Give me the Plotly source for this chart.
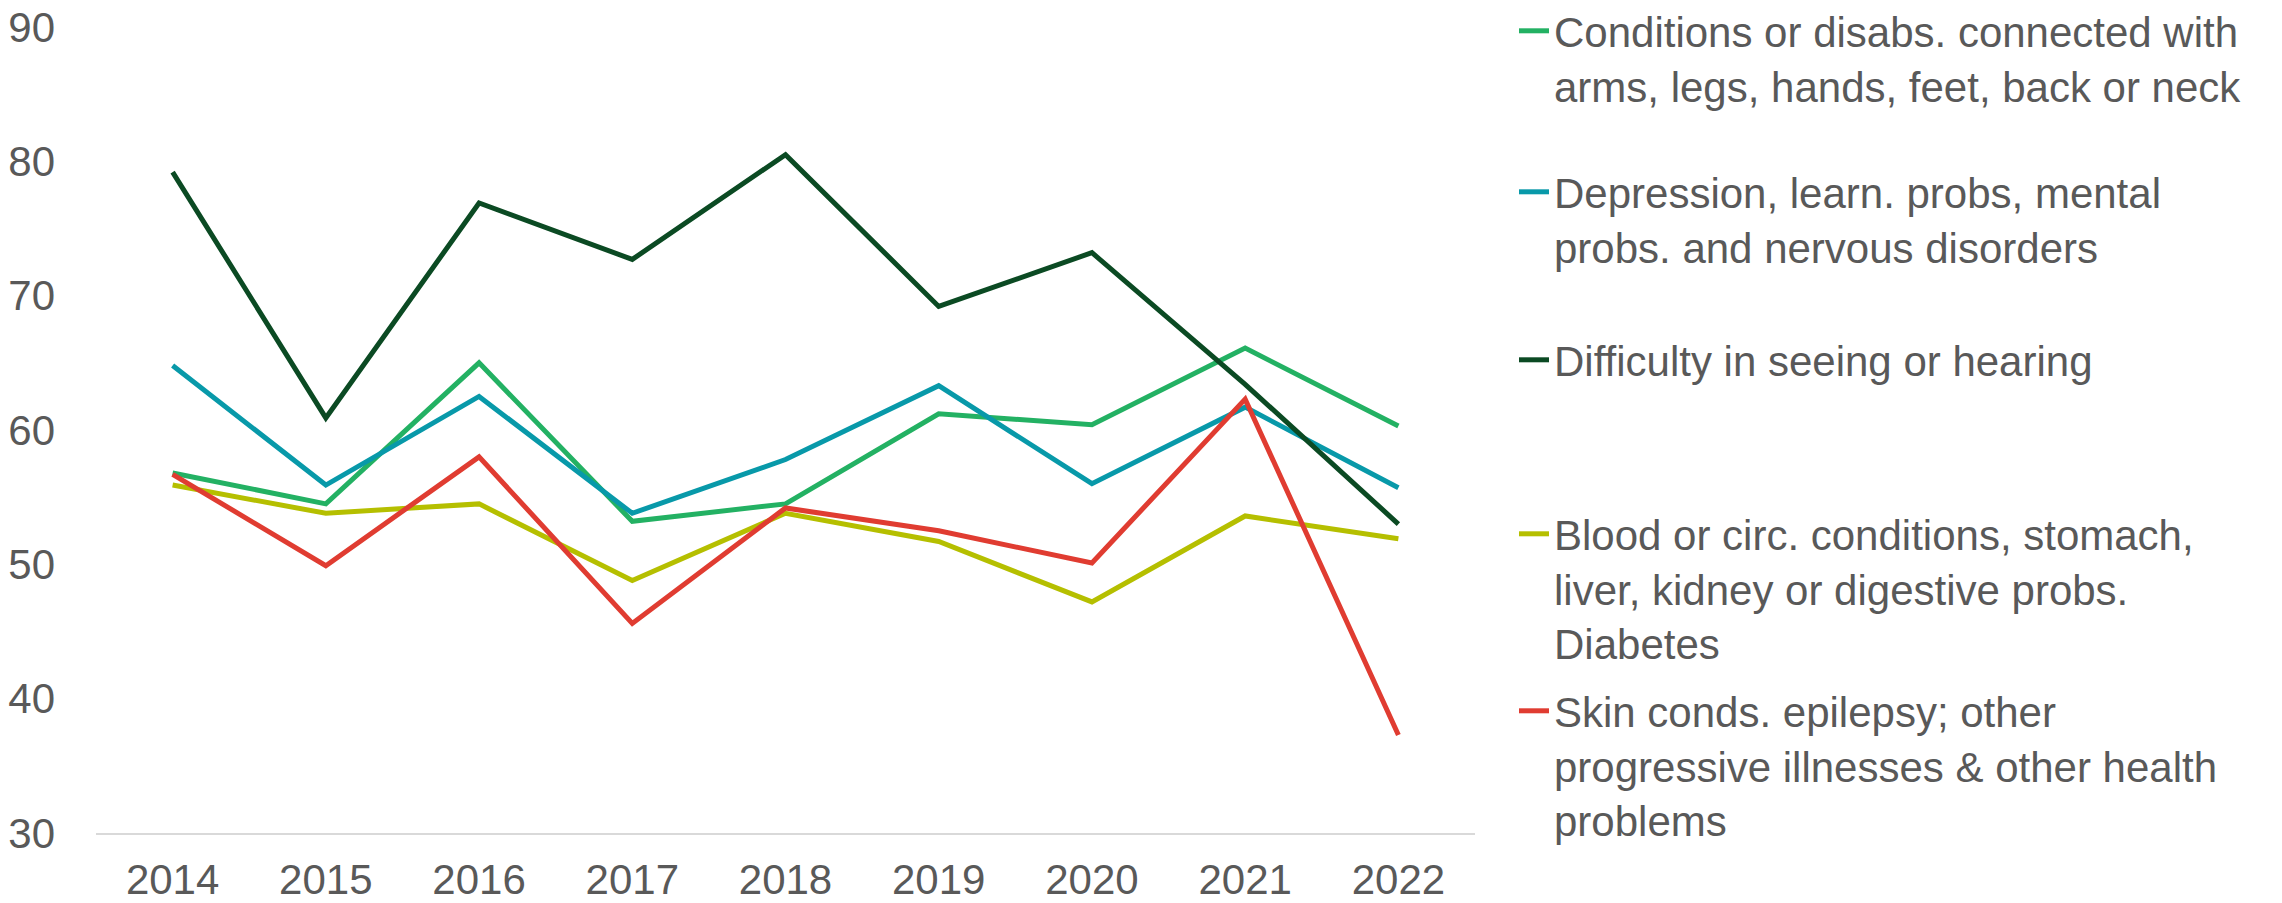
import plotly.graph_objects as go

years = ["2014", "2015", "2016", "2017", "2018", "2019", "2020", "2021", "2022"]

names = [
    "Conditions or disabs. connected with<br>arms, legs, hands, feet, back or neck",
    "Depression, learn. probs, mental<br>probs. and nervous disorders",
    "Difficulty in seeing or hearing",
    "Blood or circ. conditions, stomach,<br>liver, kidney or digestive probs.<br>Diabetes",
    "Skin conds. epilepsy; other<br>progressive illnesses & other health<br>problems",
]

conditions_limbs = [56.8, 54.5, 65.0, 53.2, 54.5, 61.2, 60.4, 66.1, 60.3]
depression_mental = [64.8, 55.9, 62.5, 53.8, 57.8, 63.3, 56.0, 61.7, 55.7]
seeing_hearing = [79.2, 60.9, 76.9, 72.7, 80.5, 69.2, 73.2, 63.4, 53.0]
blood_digestive = [55.9, 53.8, 54.5, 48.8, 53.8, 51.7, 47.2, 53.6, 51.9]
skin_other = [56.7, 49.9, 58.0, 45.6, 54.2, 52.5, 50.1, 62.3, 37.3]

series = [conditions_limbs, depression_mental, seeing_hearing, blood_digestive, skin_other]
colors = ["#23B163", "#0899A9", "#0B4A23", "#B5BF00", "#E03C31"]

FONT = "Liberation Sans, Arial, sans-serif"
GREY = "#595959"
FS = 42

fig = go.Figure()
legend_ids = ["legend", "legend2", "legend3", "legend4", "legend5"]
for name, vals, col, lid in zip(names, series, colors, legend_ids):
    fig.add_trace(go.Scatter(
        x=years, y=vals, name=name, mode="lines",
        line=dict(color=col, width=5),
        legend=lid,
    ))

W, H = 2282, 903
ml, mr, mt, mb = 96, 807, 27, 70
plot_w = W - ml - mr
plot_h = H - mt - mb

# first-line centres of the legend items (pixels from top)
item_centres = [27, 188, 356, 530, 707]
leg_x = (1514 - ml) / plot_w

layout_legends = {}
for lid, c in zip(legend_ids, item_centres):
    top = c - 30
    layout_legends[lid] = dict(
        x=leg_x, xanchor="left",
        y=(H - mb - top) / plot_h, yanchor="top",
        valign="top",
        bgcolor="rgba(0,0,0,0)",
        font=dict(family=FONT, size=FS, color=GREY),
        itemclick=False, itemdoubleclick=False,
    )

fig.update_layout(
    width=W, height=H,
    margin=dict(l=ml, r=mr, t=mt, b=mb, autoexpand=False),
    paper_bgcolor="white", plot_bgcolor="white",
    font=dict(family=FONT, size=FS, color=GREY),
    showlegend=True,
    **layout_legends,
)

fig.update_xaxes(
    type="category", range=[-0.5, 8.5],
    showgrid=False, zeroline=False, automargin=False,
    showline=True, linecolor="#D9D9D9", linewidth=2,
    ticks="", ticklabelstandoff=9,
    tickfont=dict(family=FONT, size=FS, color=GREY),
)
fig.update_yaxes(
    range=[30, 90], tickmode="array", tickvals=[30, 40, 50, 60, 70, 80, 90],
    showgrid=False, zeroline=False, showline=False, automargin=False,
    ticks="", ticklabelstandoff=40,
    tickfont=dict(family=FONT, size=FS, color=GREY),
)

fig.write_html(
    "out.html",
    config={"displayModeBar": False},
    post_script="document.body.style.margin='0';document.body.style.overflow='hidden';",
)
